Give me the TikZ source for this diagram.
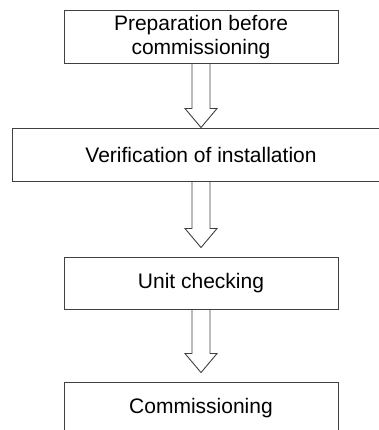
\documentclass[tikz,border=0pt]{standalone}
\usepackage{fontspec}
\setmainfont{Liberation Sans}
\usetikzlibrary{calc}

\newcommand{\hollowarrow}[3]{%
  \draw[arrowline] ($(#1.south)+(-9,0)$) -- ($(#2.north)+(-9,#3+19)$)
    -- ($(#2.north)+(-16,#3+19)$) -- ($(#2.north)+(0,#3)$)
    -- ($(#2.north)+(16,#3+19)$) -- ($(#2.north)+(9,#3+19)$)
    -- ($(#1.south)+(9,0)$);}

\begin{document}
\begin{tikzpicture}[x=1pt, y=1pt,
  stage/.style = {draw=black!75, line width=0.9pt, minimum width=274pt, minimum height=53pt,
    inner sep=0pt, align=center, font=\fontsize{21}{24}\selectfont},
  arrowline/.style = {draw=black!75, line width=0.9pt, line join=miter}]
\clip (0,0) rectangle (379,430);

\node[stage] (prep) at (201,393) {Preparation before\\commissioning};
\node[stage, minimum width=378pt] (verif) at (201,275.5) {Verification of installation};
\node[stage, minimum height=52pt] (unit) at (201,147) {Unit checking};
\node[stage, minimum height=52pt] (comm) at (201,22) {Commissioning};

\hollowarrow{prep}{verif}{0}
\hollowarrow{verif}{unit}{9}
\hollowarrow{unit}{comm}{9}
\end{tikzpicture}
\end{document}
